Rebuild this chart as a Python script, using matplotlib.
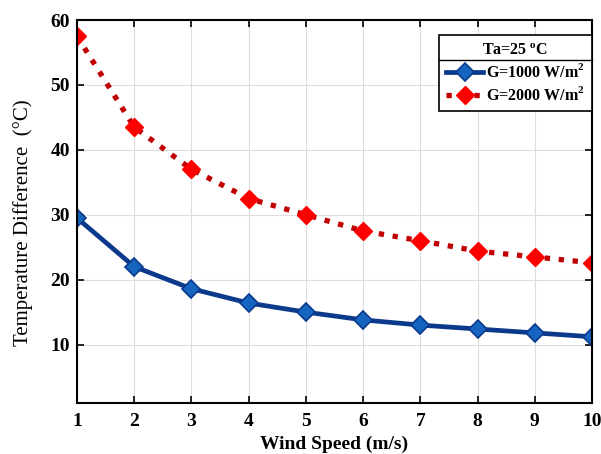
import numpy as np
import matplotlib
matplotlib.use("Agg")
import matplotlib.pyplot as plt
from matplotlib.lines import Line2D

wind_speed = [1, 2, 3, 4, 5, 6, 7, 8, 9, 10]
dt_1000 = [29.5, 22.0, 18.6, 16.4, 15.0, 13.8, 13.0, 12.4, 11.8, 11.2]
dt_2000 = [57.5, 43.5, 37.0, 32.5, 30.0, 27.5, 26.0, 24.4, 23.5, 22.6]

plt.rcParams['font.family'] = ['Liberation Serif', 'DejaVu Serif']
plt.rcParams['mathtext.fontset'] = 'custom'
plt.rcParams['mathtext.rm'] = 'Liberation Serif'
plt.rcParams['mathtext.bf'] = 'Liberation Serif:bold'

W, H = 6.01, 4.54
fig = plt.figure(figsize=(W, H), dpi=100)
ax = fig.add_axes([77/601, 1 - 403/454, (592-77)/601, (403-20)/454])

ax.plot(wind_speed, dt_1000, '-', color='#0b3a8c', lw=3.4, marker='D', ms=9,
        mfc='#1565c0', mec='#0b3a8c', mew=1.2, label='G=1000 W/m$^{\\mathbf{2}}$')
ax.plot(wind_speed, dt_2000, ':', color='#c00000', lw=3.8, marker='D', ms=9,
        mfc='#ff0000', mec='#ff0000', mew=1.0, label='G=2000 W/m$^{\\mathbf{2}}$')

ax.set_xlim(1, 10)
ax.set_ylim(1, 60)
ax.set_xticks(range(1, 11))
ax.set_yticks([10, 20, 30, 40, 50, 60])
ax.grid(True, color='#dddddd', lw=0.8)
ax.tick_params(direction='in', top=True, right=True, labelsize=14, length=5, width=1.2)
ax.tick_params(axis='x', pad=7)
ax.tick_params(axis='y', pad=5)
for lbl in ax.get_xticklabels() + ax.get_yticklabels():
    lbl.set_fontweight('bold')
for s in ax.spines.values():
    s.set_linewidth(1.5)

ax.set_xlabel('Wind Speed (m/s)', fontsize=14, fontweight='bold', labelpad=4)
ax.set_ylabel('Temperature Difference  (°C)', fontsize=15)
ax.yaxis.set_label_coords(-0.085, 0.47)

leg = ax.legend(title='Ta=25 $^{\\mathbf{o}}$C', loc='upper right',
                bbox_to_anchor=(1.0, 0.96), fontsize=11.5, title_fontsize=11.5,
                fancybox=False, edgecolor='black', framealpha=1,
                handlelength=2.3, borderpad=0.45, labelspacing=0.3,
                handletextpad=0.2, borderaxespad=0.0)
leg.get_frame().set_linewidth(1.2)
plt.setp(leg.get_texts(), fontweight='bold')
leg.get_title().set_fontweight('bold')

# separator under the legend title
fig.canvas.draw()
bb = leg.get_frame().get_window_extent()
tb = leg.get_title().get_window_extent()
t0 = leg.get_texts()[0].get_window_extent()
ysep = 0.5 * (tb.y0 + t0.y1) + 1
fig.add_artist(Line2D([bb.x0 / fig.dpi / W, bb.x1 / fig.dpi / W],
                      [ysep / fig.dpi / H] * 2, color='black', lw=1.0))

fig.savefig('out.png', dpi=100)
